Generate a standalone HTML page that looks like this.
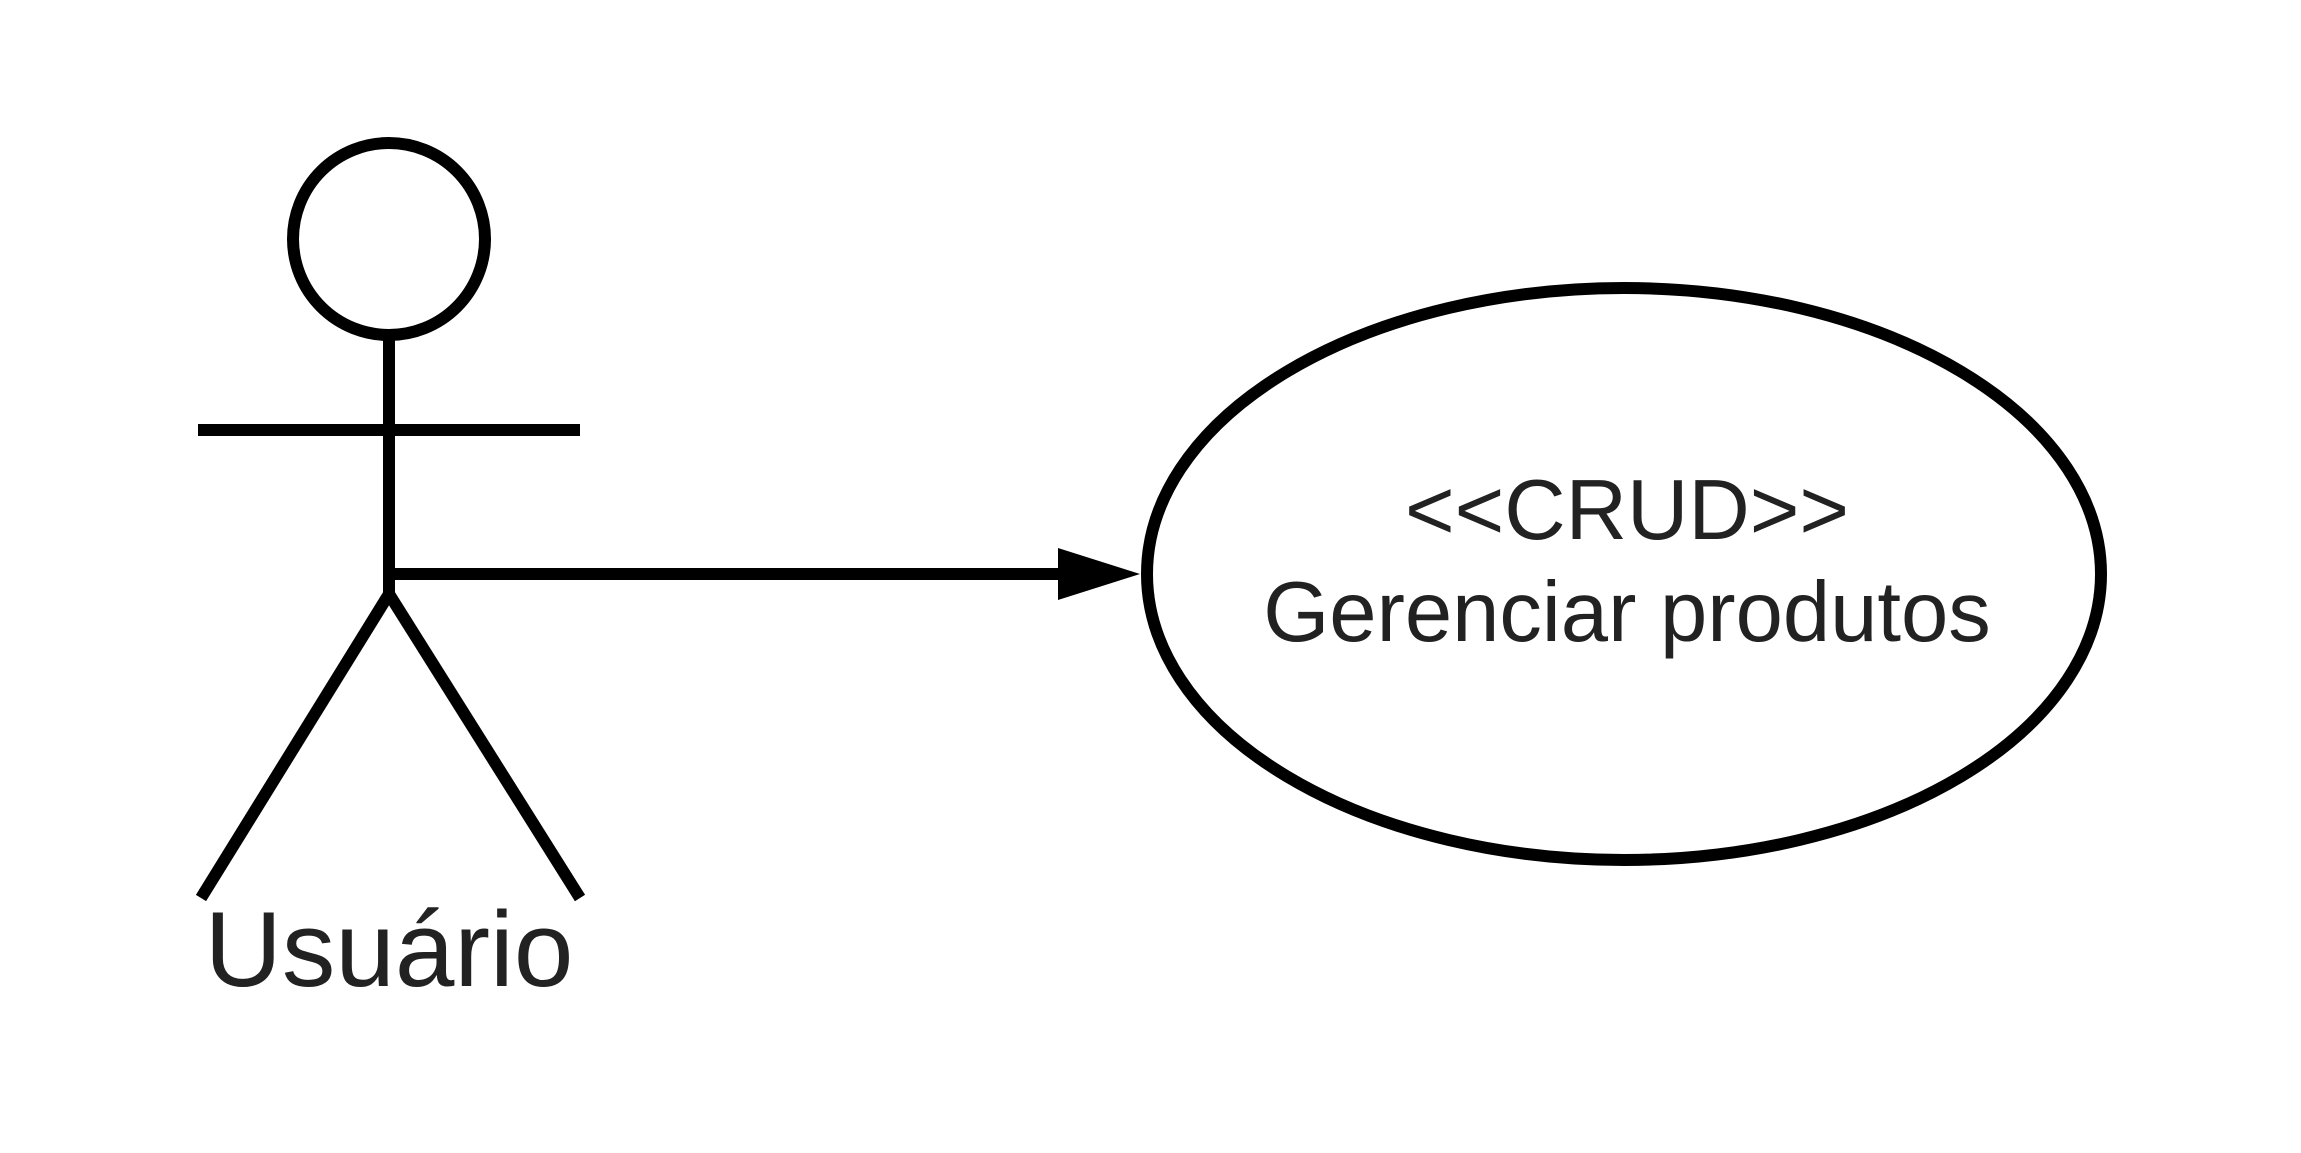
<!DOCTYPE html>
<html><head><meta charset="utf-8"><style>html,body{margin:0;padding:0;background:#fff;}svg{display:block}</style></head>
<body>
<svg width="2301" height="1153" viewBox="0 0 2301 1153" xmlns="http://www.w3.org/2000/svg">
<g stroke="#000" stroke-width="12" fill="none" stroke-linecap="butt">
<circle cx="389" cy="239" r="96"/>
<line x1="389" y1="335" x2="389" y2="594"/>
<line x1="198" y1="430" x2="580" y2="430"/>
<line x1="389" y1="594" x2="201" y2="898"/>
<line x1="389" y1="594" x2="580" y2="898"/>
<line x1="393" y1="574" x2="1065" y2="574"/>
<ellipse cx="1624" cy="574" rx="477" ry="286"/>
</g>
<polygon points="1058,548 1140,574 1058,600" fill="#000"/>
<g font-family="Liberation Sans, sans-serif" fill="#222" text-anchor="middle">
<text x="1627" y="539" font-size="85">&lt;&lt;CRUD&gt;&gt;</text>
<text x="1627" y="641" font-size="85">Gerenciar produtos</text>
<text x="389" y="986" font-size="107">Usuário</text>
</g>
</svg>
</body></html>
